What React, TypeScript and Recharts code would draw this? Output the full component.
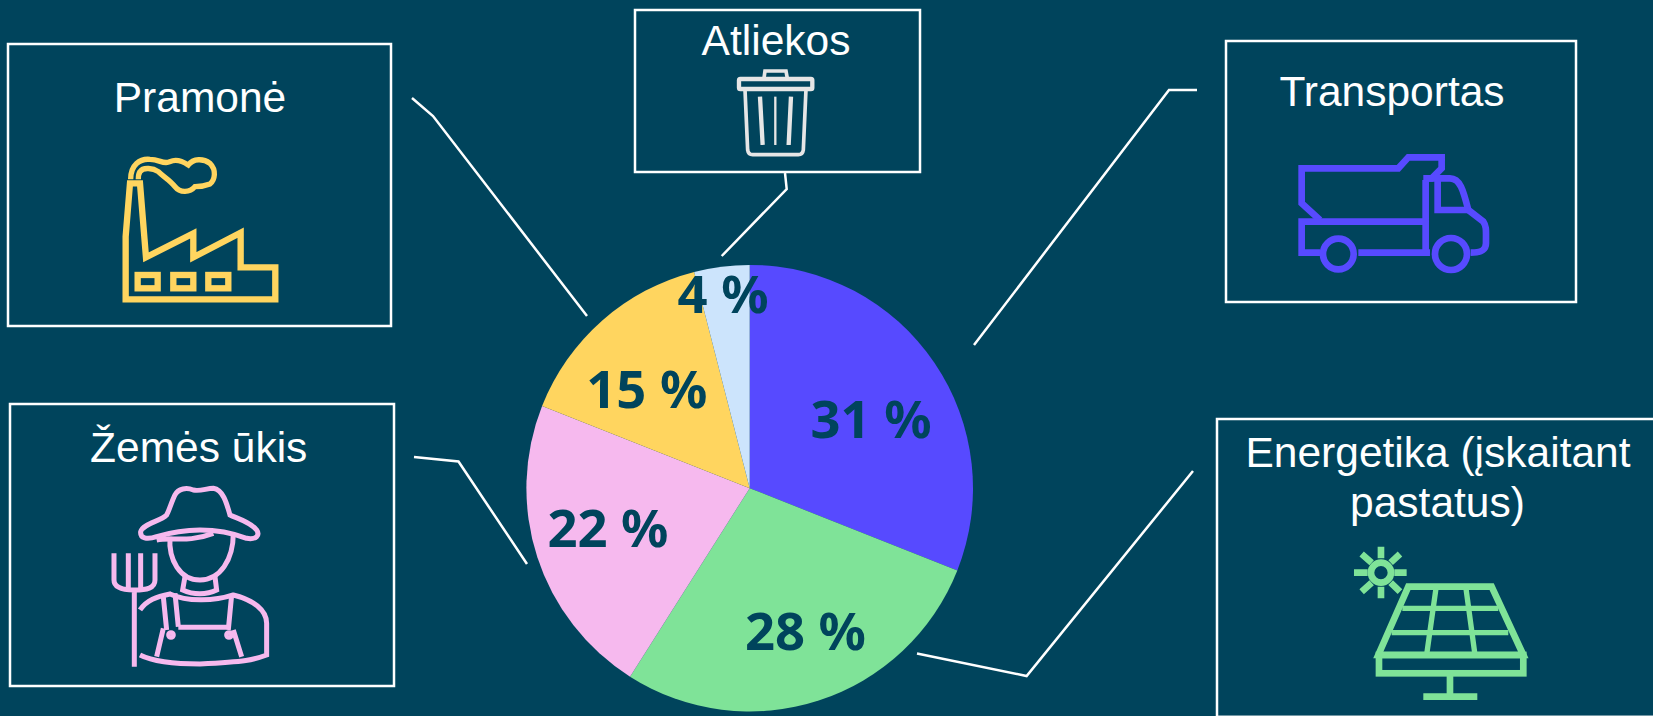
import { PieChart, Pie, Cell } from 'recharts';

const sectors = ['Transportas', 'Energetika (įskaitant pastatus)', 'Žemės ūkis', 'Pramonė', 'Atliekos'];
const shares = [31, 28, 22, 15, 4];
const sliceColors = ['#574AFF', '#7FE398', '#F6B9EE', '#FFD55F', '#CCE4FC'];

const BG = '#00445C';
const WHITE = '#FFFFFF';

const data = sectors.map((name, i) => ({ name, value: shares[i] }));

// PowerPoint had hand-placed the labels, so they need a nudge off the radial spot
const labelRadius = [148, 148, 148, 148, 197];
const labelNudge = [[-1, 12], [10, 1], [-1, -7], [-5, 10], [-2, 0]];

const renderLabel = (props: any) => {
  const { cx, cy, midAngle, index, value } = props;
  const a = (midAngle * Math.PI) / 180;
  const x = cx + labelRadius[index] * Math.cos(a) + labelNudge[index][0];
  const y = cy - labelRadius[index] * Math.sin(a) + labelNudge[index][1];
  return (
    <text x={x} y={y} textAnchor="middle" dominantBaseline="central"
      fontFamily="'Noto Sans', sans-serif" fontWeight={700} fontSize={52.5} fill={BG}>
      {`${value} %`}
    </text>
  );
};

const Title = ({ x, y, children }: any) => (
  <text x={x} y={y} textAnchor="middle" fontFamily="'Liberation Sans', Arial, sans-serif" fontSize={42.5} fill={WHITE}>
    {children}
  </text>
);

const Box = ({ x, y, w, h }: any) => (
  <rect x={x} y={y} width={w} height={h} fill="none" stroke={WHITE} strokeWidth={2.5} />
);

const Leader = ({ d }: any) => <path d={d} fill="none" stroke={WHITE} strokeWidth={2.5} />;

// icons are traced at 3x, hence the scale on each group
const Factory = () => (
  <g transform="translate(0,30) scale(0.3333)" fill="none" stroke="#FFD55F" strokeWidth={19}>
    <path d="M377 808 L377 620 L390 460 L420 460 L438 682 L580 610 L580 682 L722 608 L722 712 L826 712 L826 808 Z" />
    <rect x={413} y={735} width={60} height={40} />
    <rect x={520} y={735} width={60} height={40} />
    <rect x={625} y={735} width={60} height={40} />
    <path d="M392 448 C392 405 420 385 450 388 C480 388 490 405 510 395 C530 385 550 395 565 405 C580 385 610 385 630 400 C650 420 645 450 630 462 C610 470 595 470 585 470 C570 488 540 490 525 470 C510 450 490 440 475 425 C460 415 430 410 420 425 C415 432 415 440 415 448" strokeWidth={16} />
  </g>
);

const Farmer = () => (
  <g transform="translate(0,390) scale(0.3333)" fill="none" stroke="#F6B9EE" strokeWidth={15}>
    <path d="M500 375 C480 395 430 400 422 425 C420 445 440 450 470 440 C520 425 560 420 600 420 C650 420 700 430 740 445 C770 450 780 435 770 420 C750 395 710 385 690 375 C680 340 670 300 640 295 C620 295 600 305 580 300 C560 292 535 295 525 315 C515 335 510 355 500 375 Z" />
    <path d="M510 440 C505 510 540 570 600 570 C660 570 700 510 700 430" />
    <path d="M470 450 C520 440 560 460 640 430" />
    <path d="M555 560 L548 600 C580 615 620 615 650 600 L645 560" />
    <path d="M420 660 C440 630 470 620 510 612 C560 635 640 635 700 615 C760 630 800 660 800 700 L800 795 C760 810 740 815 600 822 C500 822 450 810 420 795" />
    <path d="M490 620 L500 720 M525 610 L535 710 M695 615 L685 720 M535 712 L690 712 M490 715 L470 800 M700 720 L725 800" />
    <circle cx={513} cy={735} r={7} />
    <circle cx={687} cy={735} r={7} />
    <path d="M403 830 L403 600 M342 490 L342 570 C342 595 370 600 403 600 C440 600 465 595 465 570 L465 490 M385 490 L385 600 M422 490 L422 600" />
  </g>
);

const Bin = () => (
  <g transform="translate(620,0) scale(0.3333)" fill="none" stroke="#E6E6E6" strokeWidth={11}>
    <rect x={357} y={237} width={220} height={30} rx={4} strokeWidth={13} />
    <path d="M432 235 L435 213 L498 213 L502 235" />
    <path d="M375 268 L383 450 Q385 464 398 464 L535 464 Q548 464 550 450 L558 268" />
    <path d="M420 290 L428 435 M513 290 L506 435" strokeWidth={13} />
    <path d="M466 290 L466 435" strokeWidth={7} />
  </g>
);

const Truck = () => (
  <g transform="translate(1210,30) scale(0.3333)" fill="none" stroke="#574AFF" strokeWidth={20}>
    <path d="M330 570 L275 520 L275 415 L565 415 L595 382 L695 382 L695 415 L665 445 L640 445" />
    <path d="M640 575 L275 575 L275 668 L330 668 M445 668 L660 668 M647 450 L647 668" />
    <path d="M647 445 L720 445 C750 445 760 480 775 540 L820 575 C830 590 828 600 828 640 C828 660 815 668 782 668" />
    <path d="M683 450 L683 540 L775 540" />
    <circle cx={385} cy={672} r={46} />
    <circle cx={723} cy={672} r={48} />
  </g>
);

const Solar = () => (
  <g transform="translate(1200,410) scale(0.3333)" fill="none" stroke="#7FE398" strokeWidth={20}>
    <circle cx={543} cy={488} r={30} />
    <path d="M543 410 L543 445 M543 530 L543 565 M462 488 L503 488 M583 488 L620 488 M485 432 L515 458 M600 432 L572 458 M485 545 L515 518 M600 545 L572 518" />
    <path d="M625 530 L875 530 L970 735 L535 735 Z" />
    <rect x={537} y={735} width={433} height={55} />
    <path d="M750 790 L750 860 M670 860 L832 860" />
    <path d="M607 595 L895 595 M575 668 L925 668 M708 535 L680 735 M798 535 L825 735" strokeWidth={16} />
  </g>
);

export default function App() {
  return (
    <div style={{ position: 'absolute', left: 0, top: 0, width: 1653, height: 716, background: BG, overflow: 'hidden' }}>
      <svg width={1653} height={716} style={{ position: 'absolute', left: 0, top: 0 }}>
        <Box x={8} y={44} w={383} h={282} />
        <Box x={10} y={404} w={384} h={282} />
        <Box x={635} y={10} w={285} h={162} />
        <Box x={1226} y={41} w={350} h={261} />
        <Box x={1217} y={419} w={450} h={297.8} />

        <Leader d="M412 98 L433 116 L587 316" />
        <Leader d="M414 457 L458.5 461.5 L527 564" />
        <Leader d="M785 173 L786.7 189 L721.7 256" />
        <Leader d="M1197 90 L1169 90 L974 345" />
        <Leader d="M1193 471 L1026.6 676 L917 653.5" />

        <Title x={200} y={111.5}>Pramonė</Title>
        <Title x={198.7} y={461.5}>Žemės ūkis</Title>
        <Title x={776} y={55}>Atliekos</Title>
        <Title x={1392} y={106}>Transportas</Title>
        <Title x={1438} y={467}>Energetika (įskaitant</Title>
        <Title x={1437.5} y={516.5}>pastatus)</Title>

        <Factory />
        <Farmer />
        <Bin />
        <Truck />
        <Solar />
      </svg>
      <div style={{ position: 'absolute', left: 0, top: 0 }}>
        <PieChart width={1653} height={716} margin={{ top: 0, right: 0, bottom: 0, left: 0 }}>
          <Pie
            data={data}
            dataKey="value"
            cx={749.7}
            cy={488.2}
            outerRadius={223.3}
            startAngle={90}
            endAngle={-270}
            stroke="none"
            label={renderLabel}
            labelLine={false}
            isAnimationActive={false}
          >
            {data.map((d, i) => (
              <Cell key={d.name} fill={sliceColors[i]} />
            ))}
          </Pie>
        </PieChart>
      </div>
    </div>
  );
}
